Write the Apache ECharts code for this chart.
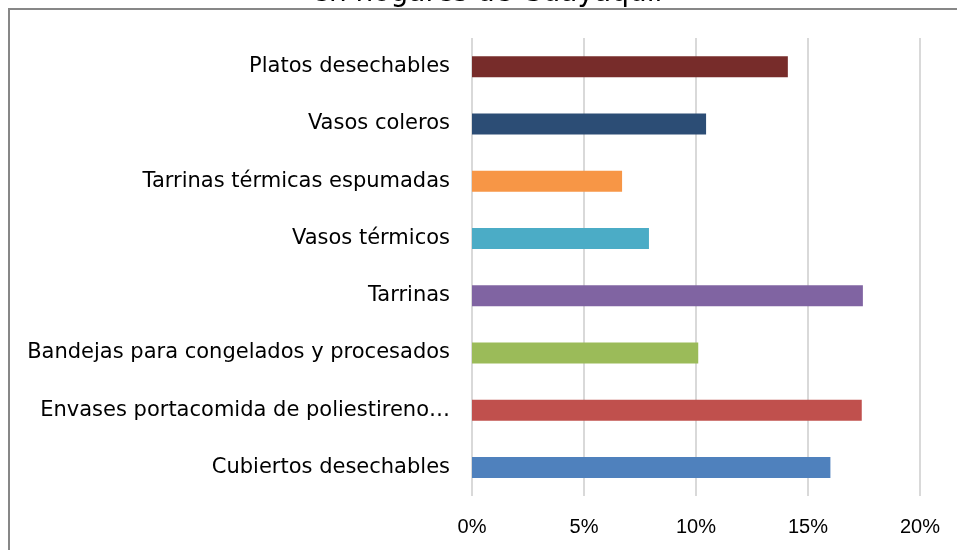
<!DOCTYPE html>
<html>
<head>
<meta charset="utf-8">
<title>Envases desechables en hogares de Guayaquil</title>
<script src="https://cdn.jsdelivr.net/npm/echarts@6/dist/echarts.min.js"></script>
<style>
    html, body { margin: 0; padding: 0; background: #fff; }
    #main { width: 957px; height: 550px; }
</style>
</head>
<body>
<div id="main"></div>
<script>
    // categorias de abajo hacia arriba (como en el eje del grafico)
    var categorias = [
        'Cubiertos desechables',
        'Envases portacomida de poliestireno…',
        'Bandejas para congelados y procesados',
        'Tarrinas',
        'Vasos térmicos',
        'Tarrinas térmicas espumadas',
        'Vasos coleros',
        'Platos desechables'
    ];
    // porcentajes
    var valores = [16.0, 17.4, 10.1, 17.45, 7.9, 6.7, 10.45, 14.1];
    var colores = ['#4F81BD', '#C0504D', '#9BBB59', '#8064A2', '#4BACC6', '#F79646', '#2C4D75', '#772C2A'];
    var ticks = [0, 5, 10, 15, 20];
    var titulo = 'en hogares de Guayaquil';

    var myChart = echarts.init(document.getElementById('main'));

    var option = {
        animation: false,
        backgroundColor: '#fff',
        graphic: [
            {
                type: 'polyline',
                shape: { points: [[9, 600], [9, 9], [1000, 9]] },
                style: { stroke: '#878787', lineWidth: 2, fill: null },
                z: 1
            },
            {
                type: 'text',
                x: 487,
                y: 8,
                style: {
                    text: titulo,
                    font: '28px "DejaVu Sans"',
                    fill: '#000',
                    align: 'center',
                    verticalAlign: 'bottom'
                },
                z: 2
            }
        ],
        grid: { left: 472, right: 37, top: 38, bottom: 54 },
        xAxis: {
            type: 'value',
            min: ticks[0],
            max: ticks[ticks.length - 1],
            interval: 5,
            axisLine: { show: false },
            axisTick: { show: false },
            splitLine: { show: true, lineStyle: { color: '#D9D9D9', width: 2 } },
            axisLabel: {
                formatter: '{value}%',
                color: '#000',
                fontFamily: 'Liberation Sans',
                fontSize: 20,
                margin: 21
            }
        },
        yAxis: {
            type: 'category',
            data: categorias,
            axisLine: { show: false },
            axisTick: { show: false },
            axisLabel: {
                color: '#000',
                fontFamily: 'DejaVu Sans',
                fontSize: 21,
                margin: 22
            }
        },
        series: [{
            type: 'bar',
            barWidth: 21,
            data: valores.map(function (v, i) {
                return { value: v, itemStyle: { color: colores[i] } };
            })
        }]
    };
    myChart.setOption(option);
</script>
</body>
</html>
